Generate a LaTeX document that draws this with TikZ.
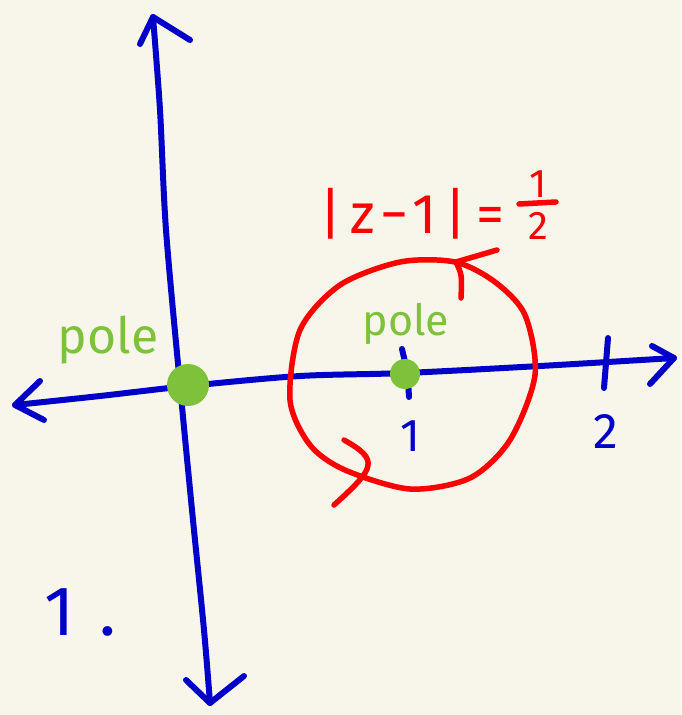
\documentclass[tikz,border=0pt]{standalone}
\usepackage{fontspec}
\setmainfont{Fira Sans}
\definecolor{bg}{HTML}{F8F6EA}
\definecolor{pen}{HTML}{0000C8}
\definecolor{ink}{HTML}{FF0000}
\definecolor{leaf}{HTML}{7DC23A}
\begin{document}
\begin{tikzpicture}[x=1pt,y=-1pt,
  blueline/.style={pen,line width=6pt,line cap=round,line join=round},
  redline/.style={ink,line width=5.5pt,line cap=round,line join=round},
  dot/.style={circle,fill=leaf,inner sep=0pt},
  lbl/.style={inner sep=0pt}]
\fill[bg] (0,0) rectangle (681,715);
\useasboundingbox (0,0) rectangle (681,715);
% vertical axis
\coordinate (vtop) at (153,17);
\coordinate (vbot) at (210,703);
\draw[blueline] plot[smooth] coordinates {(vtop) (160,110) (166,230) (180,385) (192,510) (204,630) (vbot)};
\draw[blueline] (140,44) -- (vtop) -- (190,40);
\draw[blueline] (186,680) -- (vbot) -- (244,676);
% horizontal axis
\coordinate (hl) at (15,405);
\coordinate (hr) at (674,358);
\draw[blueline] plot[smooth] coordinates {(hl) (100,396) (188,386) (300,376) (405,373) (540,366) (hr)};
\draw[blueline] (40,381) -- (hl) -- (44,420);
\draw[blueline] (652,346) -- (hr) -- (650,384);
% ticks
\draw[blueline] (608,338) -- (604,388);
\draw[blueline] (402,349) -- (405,362);
\draw[blueline] (408,380) -- (409,397);
\node[lbl,pen,font=\fontsize{46}{48}\selectfont] (one) at (410,436) {1};
\node[lbl,pen,font=\fontsize{50}{52}\selectfont] (two) at (606,432) {2};
% red circle
\draw[redline] plot[smooth cycle] coordinates {(455,262) (400,262) (340,285) (300,330) (290,400) (310,445) (345,470) (410,489) (470,478) (510,440) (535,375) (525,315) (495,282)};
\draw[redline] (497,250) -- (456,262) .. controls (462,275) .. (461,298);
\draw[redline] (344,440) .. controls (380,460) and (375,468) .. (334,505);
\node[lbl,ink,font=\fontsize{56}{58}\selectfont\addfontfeatures{LetterSpace=14}] (eq) at (412,214) {|z−1|\,=};
\node[lbl,ink,font=\fontsize{40}{42}\selectfont] (fn) at (538,184) {1};
\node[lbl,ink,font=\fontsize{40}{42}\selectfont] (fd) at (538,226) {2};
\draw[redline] (519,204) -- (556,202);
% poles
\node[dot,minimum size=42pt] (p0) at (188,385) {};
\node[dot,minimum size=30pt] (p1) at (405,374) {};
\node[lbl,leaf,font=\fontsize{50}{52}\selectfont] (l0) at (108,340) {pole};
\node[lbl,leaf,font=\fontsize{43}{45}\selectfont] (l1) at (406,324) {pole};
% number
\node[lbl,pen,font=\fontsize{70}{72}\selectfont\addfontfeatures{LetterSpace=35}] (num) at (80,612) {1.};
\end{tikzpicture}
\end{document}
